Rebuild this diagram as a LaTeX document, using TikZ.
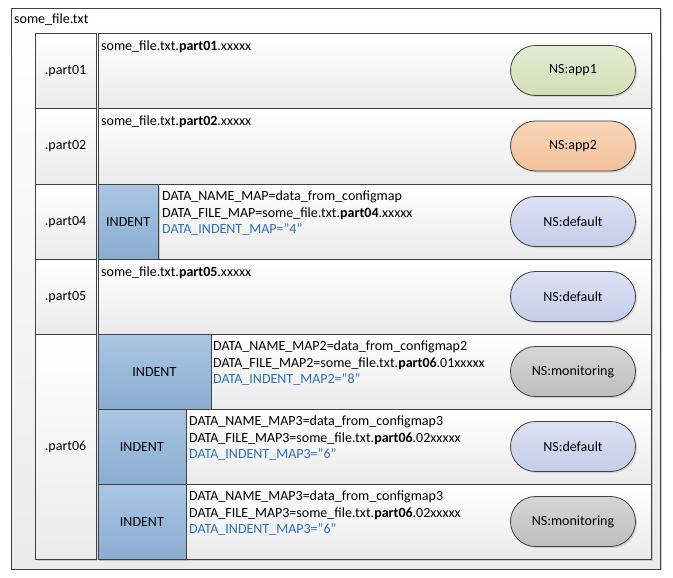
\documentclass[tikz,border=0pt]{standalone}
\usepackage{fontspec}
\setmainfont{Carlito}
\usetikzlibrary{shapes.misc,shadows}

\definecolor{lineclr}{RGB}{64,64,64}
\definecolor{indenttop}{RGB}{170,198,226}
\definecolor{indentbot}{RGB}{138,173,210}
\definecolor{mapblue}{RGB}{46,112,184}
\definecolor{apponetop}{RGB}{228,236,210}
\definecolor{apponebot}{RGB}{210,222,182}
\definecolor{apptwotop}{RGB}{250,214,186}
\definecolor{apptwobot}{RGB}{243,192,152}
\definecolor{defaulttop}{RGB}{220,226,243}
\definecolor{defaultbot}{RGB}{196,205,234}
\definecolor{monitortop}{RGB}{214,214,214}
\definecolor{monitorbot}{RGB}{190,190,190}

\begin{document}
\begin{tikzpicture}[x=1pt, y=-1pt,
	every node/.style={font=\fontsize{14}{16.7}\selectfont, inner sep=0pt},
	box/.style={draw=lineclr, line width=0.8pt, anchor=north west, top color=white, bottom color=black!8,
		drop shadow={shadow xshift=1.5pt, shadow yshift=-1.5pt, fill=black!30, opacity=0.6}},
	indentbox/.style={box, top color=indenttop, bottom color=indentbot},
	txt/.style={anchor=north west, align=left},
	ns/.style={rounded rectangle, draw=lineclr, line width=0.8pt, minimum width=125pt, minimum height=50pt,
		drop shadow={shadow xshift=1.5pt, shadow yshift=-1.5pt, fill=black!30, opacity=0.5}},
	nsapp1/.style={ns, top color=apponetop, bottom color=apponebot},
	nsapp2/.style={ns, top color=apptwotop, bottom color=apptwobot},
	nsdefault/.style={ns, top color=defaulttop, bottom color=defaultbot},
	nsmonitor/.style={ns, top color=monitortop, bottom color=monitorbot}]
	\useasboundingbox (0,0) rectangle (673,578);
	
	\node[box, minimum width=649.5pt, minimum height=560.5pt] (file) at (10.5,8) {};
	\node[txt] (filename) at (14,13.5) {some\_file.txt};
	
	% part01
	\node[box, minimum width=60.5pt, minimum height=75pt] (p01) at (35,33) {.part01};
	\node[box, minimum width=553.5pt, minimum height=75pt] (r01) at (97.5,33) {};
	\node[txt] (t01) at (101,40.5) {some\_file.txt.\textbf{part01}.xxxxx};
	\node[nsapp1] (ns01) at (573,70.5) {NS:app1};
	
	% part02
	\node[box, minimum width=60.5pt, minimum height=76pt] (p02) at (35,108) {.part02};
	\node[box, minimum width=553.5pt, minimum height=76pt] (r02) at (97.5,108) {};
	\node[txt] (t02) at (101,115.5) {some\_file.txt.\textbf{part02}.xxxxx};
	\node[nsapp2] (ns02) at (573,146) {NS:app2};
	
	% part04
	\node[box, minimum width=60.5pt, minimum height=75pt] (p04) at (35,184) {.part04};
	\node[box, minimum width=553.5pt, minimum height=75pt] (r04) at (97.5,184) {};
	\node[indentbox, minimum width=60.5pt, minimum height=75pt] (i04) at (97.5,184) {INDENT};
	\node[txt] (t04) at (162,190.5) {DATA\_NAME\_MAP=data\_from\_configmap\\
		DATA\_FILE\_MAP=some\_file.txt.\textbf{part04}.xxxxx\\
		\textcolor{mapblue}{DATA\_INDENT\_MAP=”4"}};
	\node[nsdefault] (ns04) at (573,221.5) {NS:default};
	
	% part05
	\node[box, minimum width=60.5pt, minimum height=75pt] (p05) at (35,259) {.part05};
	\node[box, minimum width=553.5pt, minimum height=75pt] (r05) at (97.5,259) {};
	\node[txt] (t05) at (101,266.5) {some\_file.txt.\textbf{part05}.xxxxx};
	\node[nsdefault] (ns05) at (573,296.5) {NS:default};
	
	% part06
	\node[box, minimum width=60.5pt, minimum height=225pt] (p06) at (35,334) {.part06};
	\node[box, minimum width=553.5pt, minimum height=75pt] (r06a) at (97.5,334) {};
	\node[indentbox, minimum width=113pt, minimum height=75pt] (i06a) at (97.5,334) {INDENT};
	\node[txt] (t06a) at (213,340.5) {DATA\_NAME\_MAP2=data\_from\_configmap2\\
		DATA\_FILE\_MAP2=some\_file.txt.\textbf{part06}.01xxxxx\\
		\textcolor{mapblue}{DATA\_INDENT\_MAP2=”8"}};
	\node[nsmonitor] (ns06a) at (573,371.5) {NS:monitoring};
	
	\node[box, minimum width=553.5pt, minimum height=75pt] (r06b) at (97.5,409) {};
	\node[indentbox, minimum width=88pt, minimum height=75pt] (i06b) at (97.5,409) {INDENT};
	\node[txt] (t06b) at (189,415.5) {DATA\_NAME\_MAP3=data\_from\_configmap3\\
		DATA\_FILE\_MAP3=some\_file.txt.\textbf{part06}.02xxxxx\\
		\textcolor{mapblue}{DATA\_INDENT\_MAP3=”6"}};
	\node[nsdefault] (ns06b) at (573,446.5) {NS:default};
	
	\node[box, minimum width=553.5pt, minimum height=75pt] (r06c) at (97.5,484) {};
	\node[indentbox, minimum width=88pt, minimum height=75pt] (i06c) at (97.5,484) {INDENT};
	\node[txt] (t06c) at (189,490.5) {DATA\_NAME\_MAP3=data\_from\_configmap3\\
		DATA\_FILE\_MAP3=some\_file.txt.\textbf{part06}.02xxxxx\\
		\textcolor{mapblue}{DATA\_INDENT\_MAP3=”6"}};
	\node[nsmonitor] (ns06c) at (573,521.5) {NS:monitoring};
	
\end{tikzpicture}
\end{document}
